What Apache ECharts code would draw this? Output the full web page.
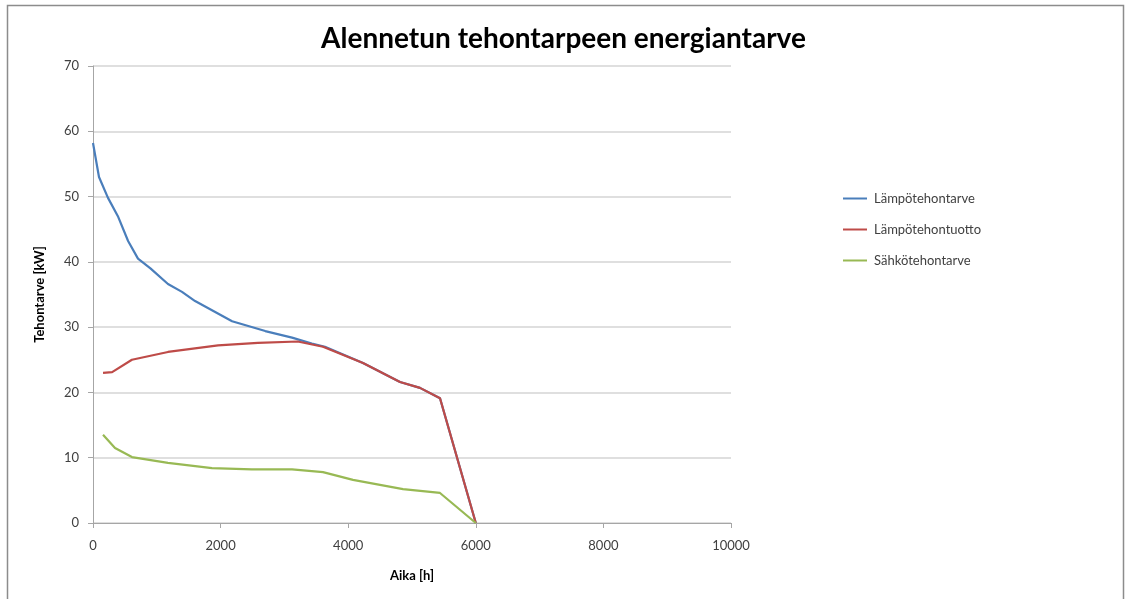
<!DOCTYPE html>
<html>
<head>
<meta charset="utf-8">
<title>Alennetun tehontarpeen energiantarve</title>
<script src="https://cdn.jsdelivr.net/npm/echarts@6/dist/echarts.min.js"></script>
<style>
  html, body { margin: 0; padding: 0; background: #ffffff; }
  #chart { width: 1127px; height: 599px; }
</style>
</head>
<body>
<div id="chart"></div>
<script>
// Lämpötehontarve: heat power demand over the duration curve
const heatDemandHours = [0, 94, 235, 390, 550, 705, 900, 1175, 1395, 1600, 1865, 2180, 2700, 3120, 3430, 3636, 4232, 4812, 5125, 5439, 6000];
const heatDemandKw    = [58.2, 53.0, 49.8, 47.0, 43.2, 40.5, 39.0, 36.6, 35.4, 34.0, 32.6, 30.9, 29.4, 28.4, 27.5, 27.0, 24.5, 21.6, 20.7, 19.1, 0];

// Lämpötehontuotto: heat power production
const heatOutputHours = [157, 300, 610, 1175, 1960, 2585, 3210, 3605, 4232, 4812, 5125, 5439, 6000];
const heatOutputKw    = [23.0, 23.1, 25.0, 26.2, 27.2, 27.6, 27.8, 27.0, 24.5, 21.6, 20.7, 19.1, 0];

// Sähkötehontarve: electric power demand
const elecDemandHours = [157, 345, 610, 1175, 1865, 2490, 3120, 3605, 4075, 4859, 5439, 6000];
const elecDemandKw    = [13.5, 11.5, 10.1, 9.2, 8.4, 8.2, 8.2, 7.8, 6.6, 5.2, 4.6, 0];

const seriesNames = ['Lämpötehontarve', 'Lämpötehontuotto', 'Sähkötehontarve'];
const seriesColors = ['#4a7ebb', '#be4b48', '#98b954'];

const zip = (xs, ys) => xs.map((x, i) => [x, ys[i]]);
const seriesData = [
  zip(heatDemandHours, heatDemandKw),
  zip(heatOutputHours, heatOutputKw),
  zip(elecDemandHours, elecDemandKw)
];

const font = 'Lato, "Open Sans", sans-serif';
const chart = echarts.init(document.getElementById('chart'), null, { renderer: 'canvas' });

chart.setOption({
  animation: false,
  backgroundColor: '#ffffff',
  textStyle: { fontFamily: font },
  title: {
    text: 'Alennetun tehontarpeen energiantarve',
    left: 'center',
    top: 20,
    textStyle: { fontFamily: font, fontSize: 28, fontWeight: 'bold', color: '#000000' }
  },
  graphic: [{
    type: 'rect',
    shape: { x: 7.5, y: 5.5, width: 1116, height: 610 },
    style: { fill: 'none', stroke: '#8c8c8c', lineWidth: 1.5 },
    silent: true
  }],
  legend: {
    orient: 'vertical',
    left: 838,
    top: 187,
    itemWidth: 24,
    itemHeight: 14,
    itemGap: 18,
    icon: 'path://M0,6 L24,6 L24,8 L0,8 Z',
    data: seriesNames,
    textStyle: { fontFamily: font, fontSize: 13, color: '#404040', padding: [0, 0, 0, 2] }
  },
  grid: { left: 93, right: 396, top: 66, bottom: 76, containLabel: false },
  xAxis: {
    type: 'value',
    min: 0, max: 10000, interval: 2000,
    name: 'Aika [h]',
    nameLocation: 'middle',
    nameGap: 46,
    nameTextStyle: { fontFamily: font, fontSize: 13, fontWeight: 'bold', color: '#000000' },
    axisLine: { show: true, lineStyle: { color: '#a6a6a6', width: 1 } },
    axisTick: { show: true, length: 5, lineStyle: { color: '#a6a6a6' } },
    axisLabel: {
      fontFamily: font, fontSize: 13, color: '#404040', margin: 16,
      formatter: (v) => String(v)
    },
    splitLine: { show: false }
  },
  yAxis: {
    type: 'value',
    min: 0, max: 70, interval: 10,
    name: 'Tehontarve [kW]',
    nameLocation: 'middle',
    nameRotate: 90,
    nameGap: 47,
    nameTextStyle: { fontFamily: font, fontSize: 13, fontWeight: 'bold', color: '#000000' },
    axisLine: { show: true, lineStyle: { color: '#a6a6a6', width: 1 } },
    axisTick: { show: true, inside: false, length: 5, lineStyle: { color: '#a6a6a6' } },
    axisLabel: { fontFamily: font, fontSize: 13, color: '#404040', margin: 14 },
    splitLine: { show: true, lineStyle: { color: '#d4d4d4', width: 1.5 } }
  },
  series: seriesNames.map((name, i) => ({
    name,
    type: 'line',
    data: seriesData[i],
    showSymbol: false,
    symbol: 'none',
    smooth: false,
    color: seriesColors[i],
    lineStyle: { width: 2.2, color: seriesColors[i] },
    z: 2 + i
  }))
});
</script>
</body>
</html>
